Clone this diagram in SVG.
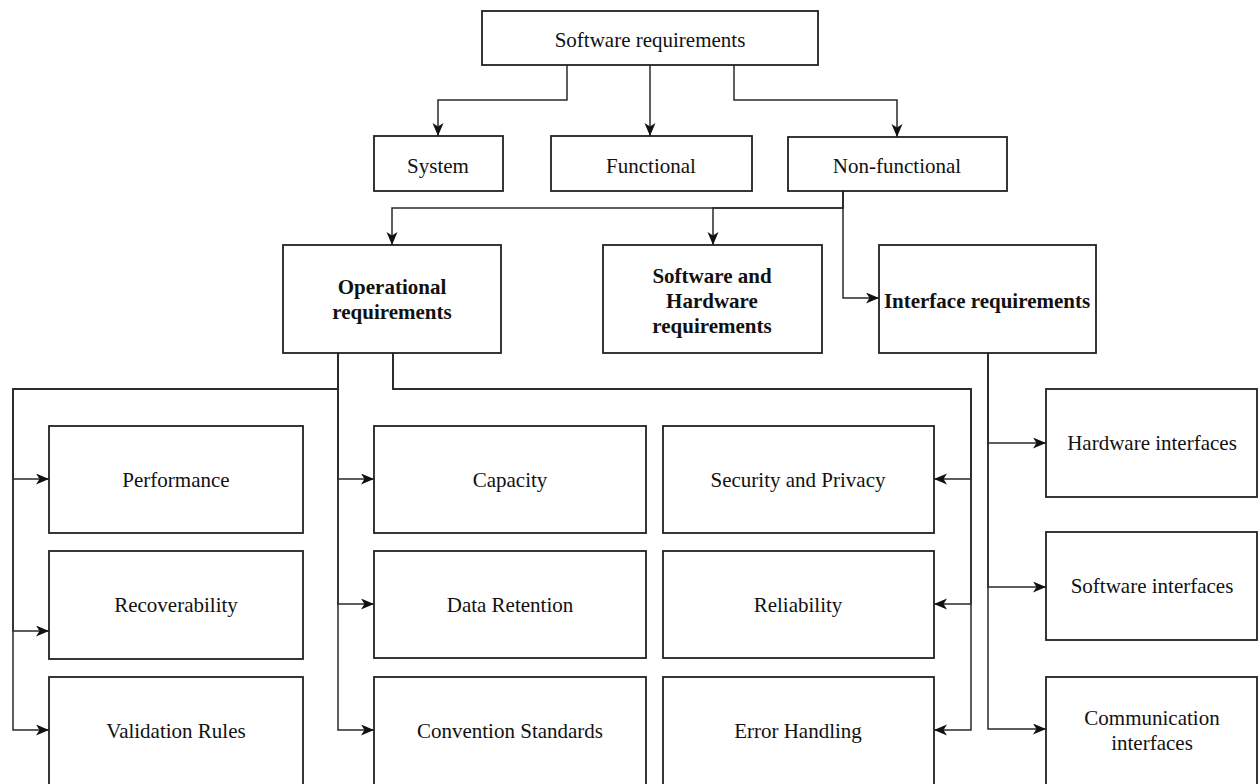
<svg xmlns="http://www.w3.org/2000/svg" width="1259" height="784" viewBox="0 0 1259 784">
<style>
.box{fill:#fff;stroke:#222;stroke-width:1.8}
.t{font-family:"Liberation Serif","Times New Roman",serif;font-size:21px;fill:#111;text-anchor:middle}
.b{font-weight:bold}
.c{fill:none;stroke:#2a2a2a;stroke-width:1.5;marker-end:url(#ah)}
</style>
<defs>
<marker id="ah" markerUnits="userSpaceOnUse" markerWidth="14" markerHeight="12" refX="13" refY="5.5" orient="auto">
<path d="M0 0 L13 5.5 L0 11 L3.5 5.5 Z" fill="#111"/>
</marker>
</defs>
<rect width="1259" height="784" fill="#fff"/>
<g id="connectors">
<path class="c" d="M567 65 V100 H438 V136"/>
<path class="c" d="M650 65 V136"/>
<path class="c" d="M734 65 V100 H897 V137"/>
<path class="c" d="M843 191 V208 H392 V245"/>
<path class="c" d="M843 191 V208 H713 V245"/>
<path class="c" d="M843 191 V298 H879"/>
<path class="c" d="M338 353 V389 H13 V479 H49"/>
<path class="c" d="M338 353 V389 H13 V631 H49"/>
<path class="c" d="M338 353 V389 H13 V730 H49"/>
<path class="c" d="M338 353 V479 H374"/>
<path class="c" d="M338 353 V604 H374"/>
<path class="c" d="M338 353 V730 H374"/>
<path class="c" d="M393 353 V389 H971 V479 H934"/>
<path class="c" d="M393 353 V389 H971 V604 H934"/>
<path class="c" d="M393 353 V389 H971 V730 H934"/>
<path class="c" d="M988 353 V443 H1046"/>
<path class="c" d="M988 353 V587 H1046"/>
<path class="c" d="M988 353 V729 H1046"/>
</g>
<g id="software-requirements"><rect class="box" x="482" y="11" width="336" height="54"/><text class="t" x="650" y="47">Software requirements</text></g>
<g id="system"><rect class="box" x="374" y="136" width="129" height="55"/><text class="t" x="438" y="173">System</text></g>
<g id="functional"><rect class="box" x="551" y="136" width="201" height="55"/><text class="t" x="651" y="173">Functional</text></g>
<g id="non-functional"><rect class="box" x="788" y="137" width="219" height="54"/><text class="t" x="897" y="173">Non-functional</text></g>
<g id="operational"><rect class="box" x="283" y="245" width="218" height="108"/><text class="t b" x="392" y="294">Operational</text><text class="t b" x="392" y="319">requirements</text></g>
<g id="sw-hw"><rect class="box" x="603" y="245" width="219" height="108"/><text class="t b" x="712" y="283">Software and</text><text class="t b" x="712" y="308">Hardware</text><text class="t b" x="712" y="333">requirements</text></g>
<g id="interface"><rect class="box" x="879" y="245" width="217" height="108"/><text class="t b" x="987" y="308">Interface requirements</text></g>
<g id="performance"><rect class="box" x="49" y="426" width="254" height="107"/><text class="t" x="176" y="487">Performance</text></g>
<g id="recoverability"><rect class="box" x="49" y="551" width="254" height="108"/><text class="t" x="176" y="612">Recoverability</text></g>
<g id="validation"><rect class="box" x="49" y="677" width="254" height="112"/><text class="t" x="176" y="738">Validation Rules</text></g>
<g id="capacity"><rect class="box" x="374" y="426" width="272" height="107"/><text class="t" x="510" y="487">Capacity</text></g>
<g id="data-retention"><rect class="box" x="374" y="551" width="272" height="107"/><text class="t" x="510" y="612">Data Retention</text></g>
<g id="convention"><rect class="box" x="374" y="677" width="272" height="112"/><text class="t" x="510" y="738">Convention Standards</text></g>
<g id="security"><rect class="box" x="663" y="426" width="271" height="107"/><text class="t" x="798" y="487">Security and Privacy</text></g>
<g id="reliability"><rect class="box" x="663" y="551" width="271" height="107"/><text class="t" x="798" y="612">Reliability</text></g>
<g id="error-handling"><rect class="box" x="663" y="677" width="271" height="112"/><text class="t" x="798" y="738">Error Handling</text></g>
<g id="hardware-interfaces"><rect class="box" x="1046" y="389" width="211" height="108"/><text class="t" x="1152" y="450">Hardware interfaces</text></g>
<g id="software-interfaces"><rect class="box" x="1046" y="532" width="211" height="108"/><text class="t" x="1152" y="593">Software interfaces</text></g>
<g id="communication-interfaces"><rect class="box" x="1046" y="677" width="211" height="112"/><text class="t" x="1152" y="725">Communication</text><text class="t" x="1152" y="750">interfaces</text></g>
</svg>
